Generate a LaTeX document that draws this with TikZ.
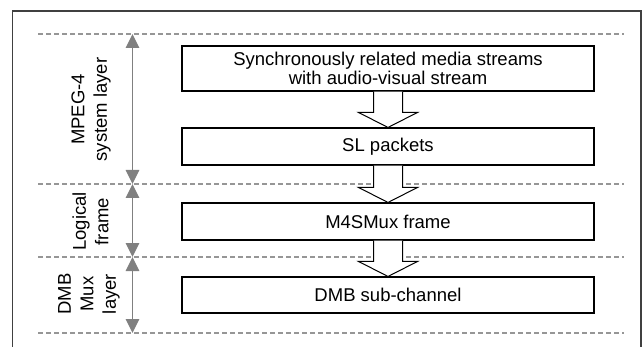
\documentclass[tikz,border=0pt]{standalone}
\usepackage{fontspec}
\setmainfont{Liberation Sans}
\usetikzlibrary{arrows.meta,calc}

\definecolor{framegray}{RGB}{64,64,64}
\definecolor{dashgray}{RGB}{150,150,150}
\definecolor{dimgray}{RGB}{128,128,128}

\tikzset{
  layerbox/.style={draw=black, line width=1.1pt, fill=white, minimum width=412pt,
    inner sep=0pt, align=center, font=\fontsize{18.5}{19.5}\selectfont},
  blockarrow/.style={draw=black, line width=1pt, fill=white},
  dashline/.style={draw=dashgray, line width=1.1pt, dash pattern=on 5pt off 3pt},
  dimline/.style={draw=dimgray, line width=1.4pt,
    {Triangle[width=13.5pt,length=14pt]}-{Triangle[width=13.5pt,length=14pt]}},
  layerlabel/.style={rotate=90, align=center, inner sep=0pt,
    font=\fontsize{18.5}{22.5}\selectfont},
  outerframe/.style={draw=framegray, line width=1.2pt}
}

% hollow arrow from the bottom of one box to the top of the next
\newcommand\flowarrow[2]{%
  \path[blockarrow] ($(#1.south)+(-14.5,0)$) -- ($(#2.north)+(-14.5,-15)$)
    -- ($(#2.north)+(-29.5,-15)$) -- (#2.north) -- ($(#2.north)+(29.5,-15)$)
    -- ($(#2.north)+(14.5,-15)$) -- ($(#1.south)+(14.5,0)$);%
}

\begin{document}
\begin{tikzpicture}[x=1pt,y=-1pt]
  \useasboundingbox (0,0) rectangle (644,347);

  % outer frame, open at the bottom
  \draw[outerframe] (12.7,347) -- (12.7,11) -- (641,11) -- (641,347);

  % layer boundaries
  \coordinate (l1) at (38,34);
  \coordinate (l2) at (38,184);
  \coordinate (l3) at (38,257);
  \coordinate (l4) at (38,333);
  \coordinate (r1) at (624,34);
  \coordinate (r2) at (624,184);
  \coordinate (r3) at (624,257);
  \coordinate (r4) at (624,333);
  \foreach \i in {1,...,4} \draw[dashline] (l\i) -- (r\i);

  % extent markers of each layer
  \coordinate (m1) at (132.5,34);
  \coordinate (m2) at (132.5,184);
  \coordinate (m3) at (132.5,257);
  \coordinate (m4) at (132.5,333);
  \draw[dimline] (m1) -- (m2);
  \draw[dimline] (m2) -- (m3);
  \draw[dimline] (m3) -- (m4);

  % layer names
  \node[layerlabel] (lab1) at (91,109.5) {MPEG-4\\system layer};
  \node[layerlabel] (lab2) at (90.5,221.5) {Logical\\frame};
  \node[layerlabel] (lab3) at (89,294) {DMB\\Mux\\layer};

  % boxes
  \node[layerbox, minimum height=45pt] (b1) at (388,68.5)
    {Synchronously related media streams\\with audio-visual stream};
  \node[layerbox, minimum height=37pt] (b2) at (388,146.5) {SL packets};
  \node[layerbox, minimum height=37pt] (b3) at (388,221.5) {M4SMux frame};
  \node[layerbox, minimum height=36pt] (b4) at (388,295) {DMB sub-channel};

  % hollow flow arrows
  \flowarrow{b1}{b2}
  \flowarrow{b2}{b3}
  \flowarrow{b3}{b4}
\end{tikzpicture}
\end{document}
